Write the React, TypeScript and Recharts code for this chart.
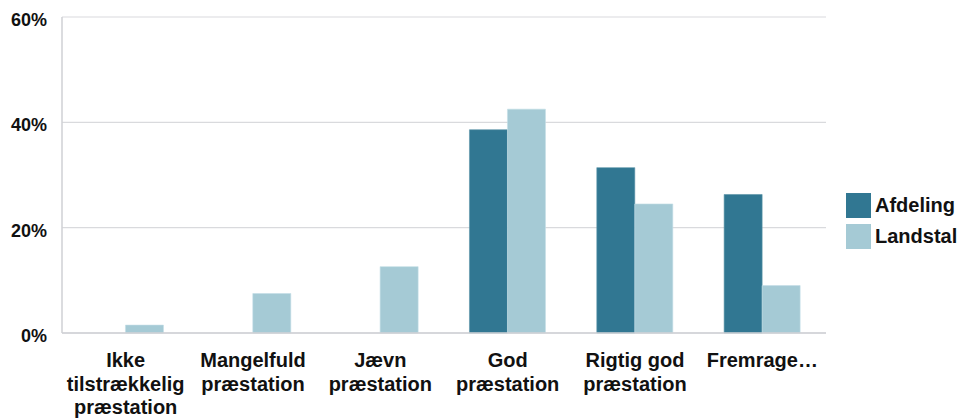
import React from 'react';
import { BarChart, Bar, XAxis, YAxis, CartesianGrid } from 'recharts';

const categories: string[][] = [
  ['Ikke', 'tilstrækkelig', 'præstation'],
  ['Mangelfuld', 'præstation'],
  ['Jævn', 'præstation'],
  ['God', 'præstation'],
  ['Rigtig god', 'præstation'],
  ['Fremrage…'],
];
const afdeling: number[] = [0, 0, 0, 38.6, 31.4, 26.3];
const landstal: number[] = [1.5, 7.5, 12.6, 42.5, 24.5, 9.0];
const yTicks: number[] = [0, 20, 40, 60];
const seriesNames = ['Afdeling', 'Landstal'];
const colors = ['#317792', '#a5cad5'];

const data = categories.map((c, i) => ({
  name: c.join(' '),
  idx: i,
  Afdeling: afdeling[i],
  Landstal: landstal[i],
}));

const FONT = '"Liberation Sans", Arial, Helvetica, sans-serif';

const XTick = (props: any) => {
  const { x, y, payload } = props;
  const lines = categories[payload.index] ?? [String(payload.value)];
  return (
    <text x={x} y={y} textAnchor="middle" fontFamily={FONT} fontSize={20} fontWeight="bold" fill="#111">
      {lines.map((l, i) => (
        <tspan key={i} x={x} dy={i === 0 ? 34 : 23.5}>{l}</tspan>
      ))}
    </text>
  );
};

const YTick = (props: any) => {
  const { x, y, payload } = props;
  return (
    <text x={x} y={y} dy={9} textAnchor="end" fontFamily={FONT} fontSize={18} fontWeight="bold" fill="#111">
      {`${payload.value}%`}
    </text>
  );
};

export default function App() {
  return (
    <div style={{ position: 'absolute', left: 0, top: 0, width: 961, height: 419, background: '#fff' }}>
      <BarChart
        width={961}
        height={419}
        data={data}
        margin={{ top: 17, right: 135, bottom: 56, left: 0 }}
        barCategoryGap="20%"
        barGap={0}
      >
        <CartesianGrid vertical={false} stroke="#d9dadd" strokeWidth={1.2} />
        <XAxis
          dataKey="name"
          height={30}
          tickLine={false}
          tickSize={0}
          tickMargin={0}
          axisLine={{ stroke: '#cfd1d4', strokeWidth: 1.5 }}
          tick={<XTick />}
          interval={0}
        />
        <YAxis
          width={62}
          domain={[0, 60]}
          ticks={yTicks}
          tickLine={false}
          tickSize={0}
          tickMargin={15}
          axisLine={{ stroke: '#cfd1d4', strokeWidth: 1.5 }}
          tick={<YTick />}
        />
        <Bar dataKey="Afdeling" fill={colors[0]} stroke="#5b93a8" strokeWidth={0.6} isAnimationActive={false} />
        <Bar dataKey="Landstal" fill={colors[1]} stroke="#c3dde5" strokeWidth={0.6} isAnimationActive={false} />
      </BarChart>
      {seriesNames.map((n, i) => (
        <div
          key={n}
          style={{
            position: 'absolute',
            left: 846,
            top: 193 + i * 31,
            height: 25,
            display: 'flex',
            alignItems: 'center',
            fontFamily: FONT,
            fontSize: 20,
            fontWeight: 'bold',
            color: '#111',
            whiteSpace: 'nowrap',
          }}
        >
          <span style={{ display: 'inline-block', width: 25, height: 25, background: colors[i], marginRight: 4 }} />
          <span>{n}</span>
        </div>
      ))}
    </div>
  );
}
